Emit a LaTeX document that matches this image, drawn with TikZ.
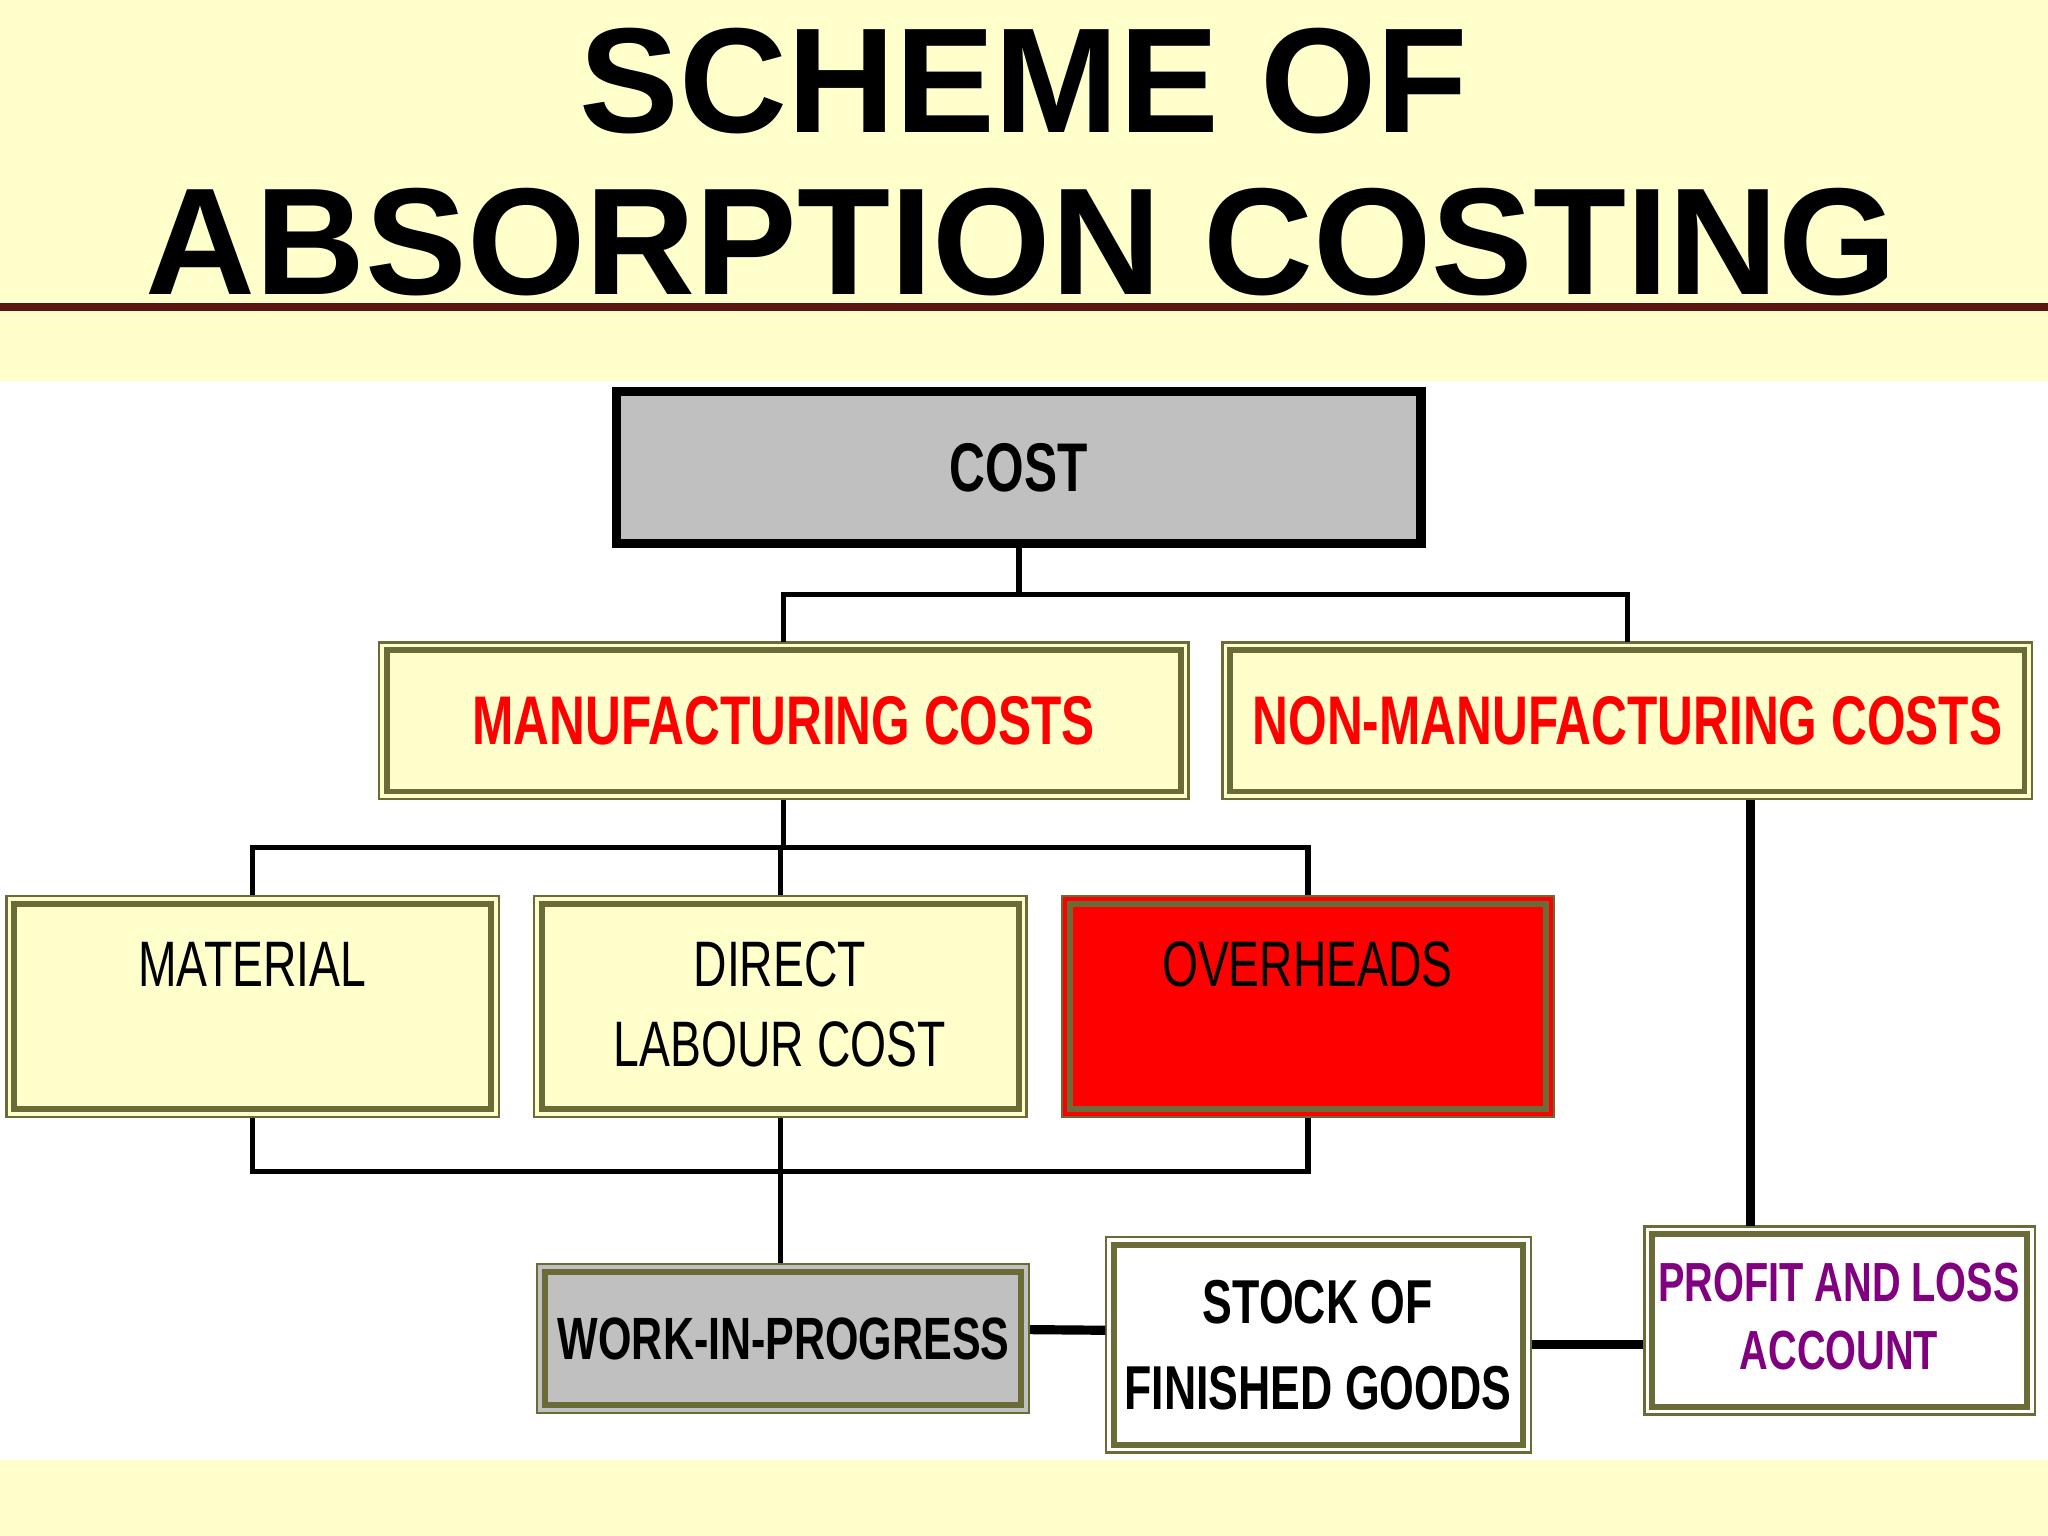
\documentclass[tikz,border=0pt]{standalone}
\usepackage{fontspec}
\setmainfont{Liberation Sans}
\newfontfamily\nar[FakeStretch=0.72]{Liberation Sans}
\usetikzlibrary{fit,calc}
\definecolor{ol}{RGB}{107,107,55}
\definecolor{ly}{RGB}{255,255,204}
\definecolor{gr}{RGB}{192,192,192}
\definecolor{pu}{RGB}{128,0,128}
\definecolor{dr}{RGB}{90,20,20}
\tikzset{
  outerb/.style={draw=ol,line width=0.5pt},
  innerb/.style={draw=ol,line width=1.3pt},
  conn/.style={line width=1.2pt},
  thickconn/.style={line width=2pt},
  lbl/.style={font=\nar\bfseries\fontsize{15}{18}\selectfont,align=center,inner sep=0},
}
\newcommand\bx[6]{%
  \draw[outerb,fill=#6] (#2,#3) rectangle (#4,#5);
  \draw[innerb] (#2+6,#3+6) rectangle (#4-6,#5-6);
  \path (#2,#3) coordinate (#1-nw) (#4,#5) coordinate (#1-se);
  \node[fit=(#1-nw)(#1-se),inner sep=0] (#1) {};}
\begin{document}
\begin{tikzpicture}[x=0.01cm,y=-0.01cm]
\useasboundingbox (0,0) rectangle (1568,1176);
\fill[ly] (0,0) rectangle (1568,292);
\fill[ly] (0,1118) rectangle (1568,1176);
\node[inner sep=0] (t1) at (784,62) {\resizebox{6.8cm}{!}{\bfseries SCHEME OF}};
\node[inner sep=0] (t2) at (782,185) {\resizebox{13.4cm}{!}{\bfseries ABSORPTION COSTING}};
\coordinate (l1) at (0,235); \coordinate (l2) at (1568,235);
\draw[dr,line width=1.6pt] (l1) -- (l2);
\draw[line width=2pt,fill=gr] (472,300) rectangle (1088,416);
\node[fit={(472,300)(1088,416)},inner sep=0] (cost) {};
\node[lbl] (costt) at (780,358) {COST};
\bx{man}{290}{492}{910}{612}{ly}
\node[lbl,red] (mant) at (600,552) {MANUFACTURING COSTS};
\bx{non}{936}{492}{1556}{612}{ly}
\node[lbl,red] (nont) at (1246,552) {NON-MANUFACTURING COSTS};
\bx{mat}{5}{686}{382}{855}{ly}
\node[lbl,font=\nar\fontsize{14}{17.6}\selectfont] (matt) at (193,738) {MATERIAL};
\bx{dlc}{409}{686}{786}{855}{ly}
\node[lbl,font=\nar\fontsize{14}{17.6}\selectfont] (dlct) at (597,769) {DIRECT\\LABOUR COST};
\bx{ovh}{813}{686}{1190}{855}{red}
\node[lbl,font=\nar\fontsize{14}{17.6}\selectfont] (ovht) at (1001,738) {OVERHEADS};
\bx{wip}{411}{968}{788}{1082}{gr}
\node[lbl,font=\nar\bfseries\fontsize{13}{16}\selectfont] (wipt) at (600,1025) {WORK-IN-PROGRESS};
\bx{stk}{847}{947}{1172}{1112}{white}
\node[lbl,font=\nar\bfseries\fontsize{13.5}{18.8}\selectfont] (stkt) at (1009,1030) {STOCK OF\\FINISHED GOODS};
\bx{pl}{1259}{939}{1558}{1083}{white}
\node[lbl,pu,font=\nar\bfseries\fontsize{12}{15}\selectfont] (plt) at (1408,1008) {PROFIT AND LOSS\\ACCOUNT};
\coordinate (j1) at (780,455);
\coordinate (j2) at (600,649);
\coordinate (j3) at (597,897);
\coordinate (cx) at (1340,0);
\draw[conn] (cost.south) -- (j1);
\draw[conn] (man.north) |- (j1) -| (non.north);
\draw[conn] (man.south) -- (j2);
\draw[conn] (mat.north) |- (j2) -| (ovh.north);
\draw[conn] (dlc.north) -- (dlc.north |- j2);
\draw[conn] (mat.south) |- (j3) -| (ovh.south);
\draw[conn] (dlc.south) -- (dlc.south |- wip.north);
\draw[thickconn] ($(wip.east)+(0,-7)$) -- ($(stk.west)+(0,-11)$);
\draw[thickconn] (stk.east) -- (stk.east -| pl.west);
\draw[thickconn] (non.south -| cx) -- (pl.north -| cx);
\end{tikzpicture}
\end{document}
